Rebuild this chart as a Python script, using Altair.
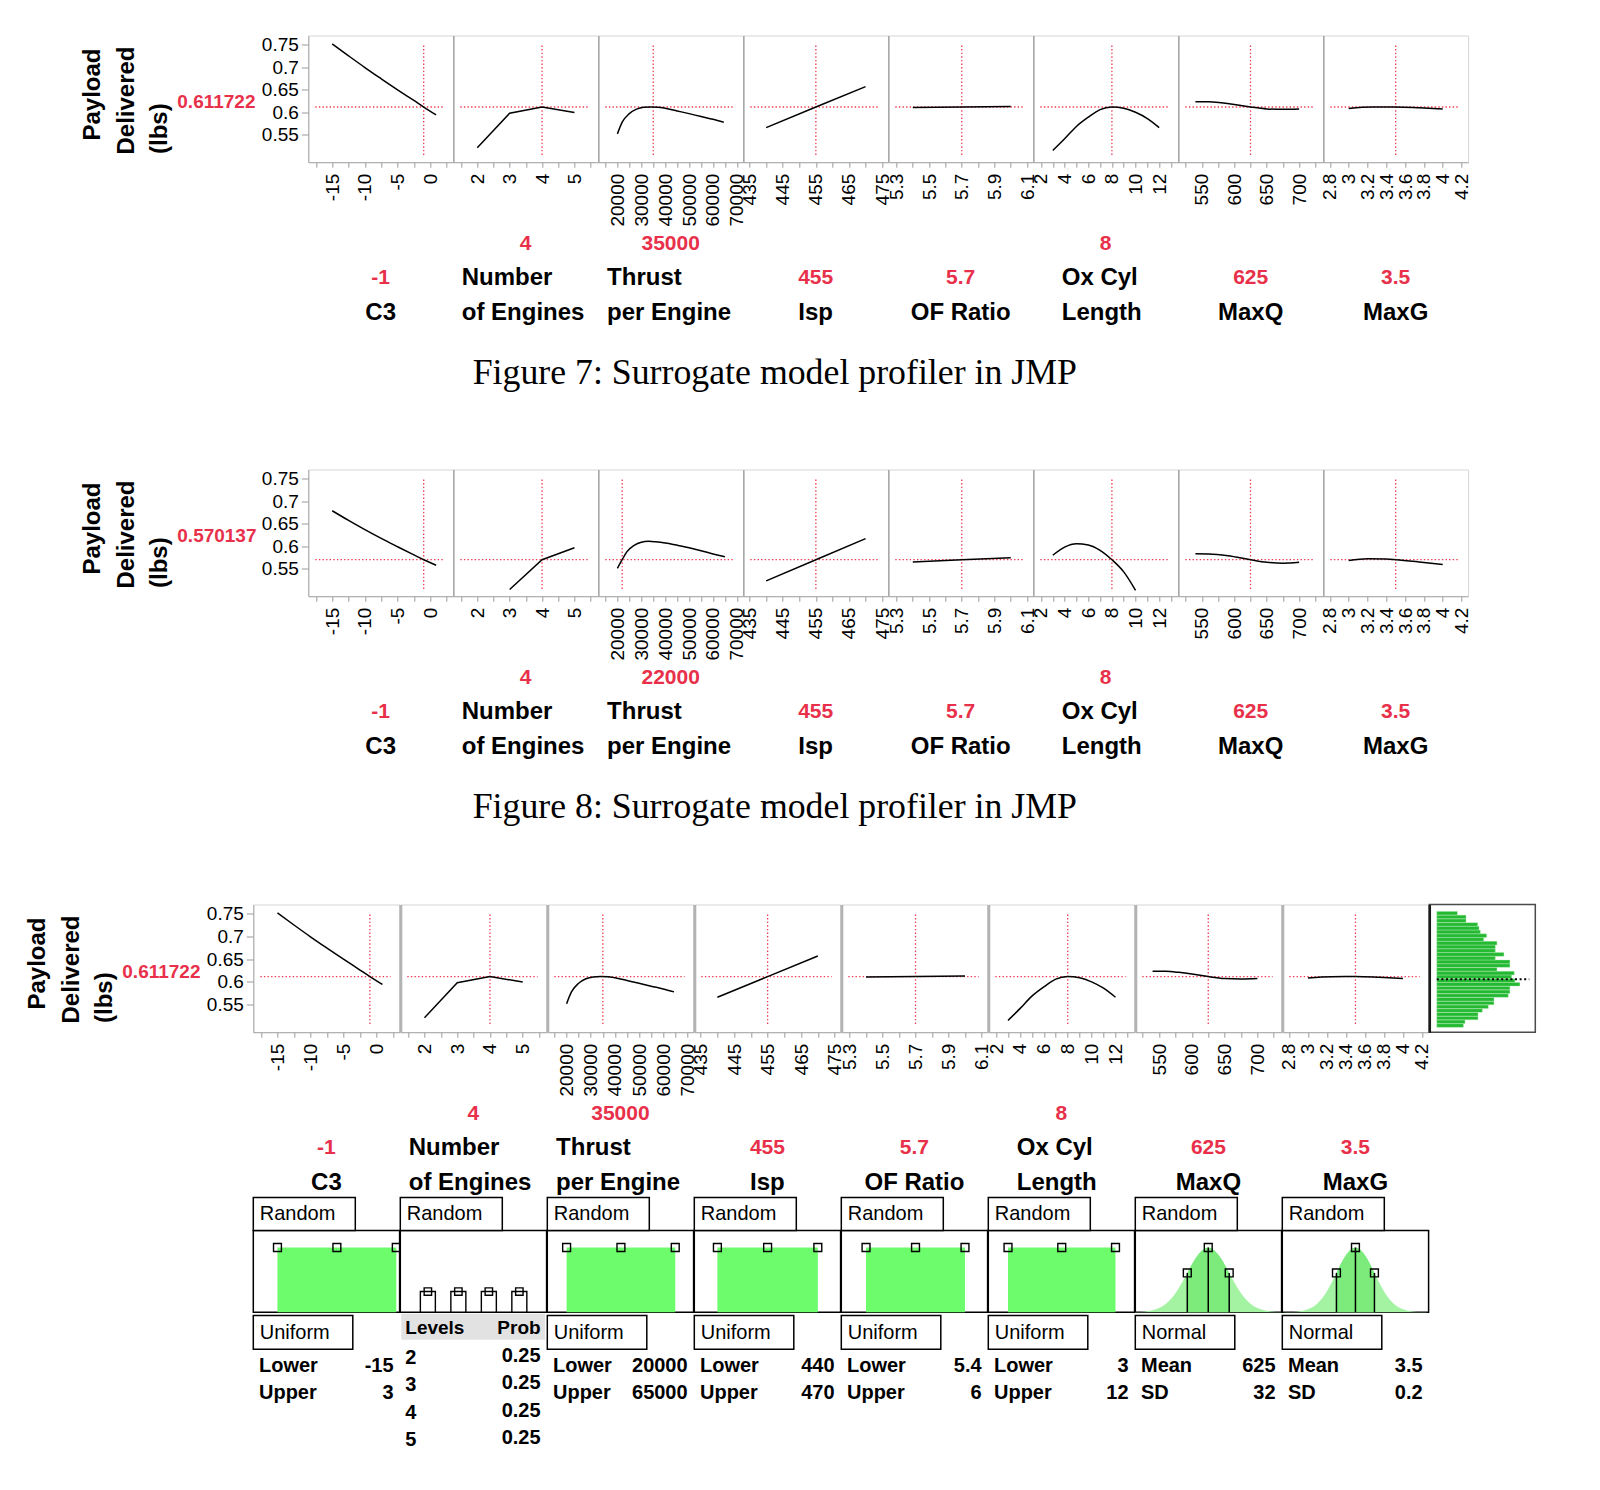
import json
import altair as alt
import pandas as pd

FONT = "Liberation Sans"
SERIF = "Liberation Serif"
RED = "#f03a50"
RED_TEXT = "#e8304a"
GREEN_U = "#6cfc6c"
BELL = "#a3f3a3"
BELL_IN = "#7ceb7c"
HIST_GREEN = "#23b932"

# ---------------- profiler data ----------------
factor_name_lines = [["C3"], ["Number", "of Engines"], ["Thrust", "per Engine"], ["Isp"],
                     ["OF Ratio"], ["Ox Cyl", "Length"], ["MaxQ"], ["MaxG"]]
x_domains = [[-18.66, 3.5], [1.26, 5.73], [12000, 72600], [433.1, 476.8],
             [5.25, 6.137], [1.35, 13.6], [513.6, 737], [2.73, 4.27]]
major_ticks = [[-15, -10, -5, 0], [2, 3, 4, 5], [20000, 30000, 40000, 50000, 60000, 70000],
               [435, 445, 455, 465, 475], [5.3, 5.5, 5.7, 5.9, 6.1], [2, 4, 6, 8, 10, 12],
               [550, 600, 650, 700], [2.8, 3, 3.2, 3.4, 3.6, 3.8, 4, 4.2]]
minor_ticks = [[-17.5, -12.5, -7.5, -2.5, 2.5], [1.5, 2.5, 3.5, 4.5, 5.5],
               [15000, 25000, 35000, 45000, 55000, 65000], [440, 450, 460, 470],
               [5.4, 5.6, 5.8, 6.0], [3, 5, 7, 9, 11, 13], [525, 575, 625, 675, 725], []]
y_ticks = [0.55, 0.6, 0.65, 0.7, 0.75]
y_domain = [0.489, 0.7707]
y_title_lines = ["Payload", "Delivered", "(lbs)"]

settings_fig7 = [-1, 4, 35000, 455, 5.7, 8, 625, 3.5]
settings_fig8 = [-1, 4, 22000, 455, 5.7, 8, 625, 3.5]
setting_labels_fig7 = ["-1", "4", "35000", "455", "5.7", "8", "625", "3.5"]
setting_labels_fig8 = ["-1", "4", "22000", "455", "5.7", "8", "625", "3.5"]
response_fig7 = 0.611722
response_fig8 = 0.570137
response_label_fig7 = "0.611722"
response_label_fig8 = "0.570137"
caption_fig7 = "Figure 7: Surrogate model profiler in JMP"
caption_fig8 = "Figure 8: Surrogate model profiler in JMP"

c3_x = [-15, -12.5, -10, -7.5, -5, -2.5, -1, 0.9]
c3_fig7 = [0.752, 0.7255, 0.6995, 0.6745, 0.650, 0.6262, 0.6117, 0.5942]
c3_fig8 = [0.679, 0.6575, 0.637, 0.6175, 0.599, 0.5808, 0.5701, 0.5578]
eng_x_fig7 = [2, 3, 4, 5]
eng_fig7 = [0.521, 0.598, 0.6117, 0.5996]
eng_x_fig8 = [3, 4, 5]
eng_fig8 = [0.504, 0.5701, 0.5966]
thr_x_fig7 = [20000, 22000, 25000, 28000, 31000, 34000, 37000, 40000, 45000, 50000, 55000, 60000, 64500]
thr_fig7 = [0.552, 0.578, 0.597, 0.607, 0.611, 0.6118, 0.6113, 0.609, 0.603, 0.597, 0.5905, 0.5845, 0.578]
thr_x_fig8 = [20000, 22000, 24000, 27000, 30000, 33000, 36000, 40000, 45000, 50000, 55000, 60000, 65000]
thr_fig8 = [0.551, 0.5701, 0.588, 0.602, 0.609, 0.611, 0.610, 0.6075, 0.6025, 0.5965, 0.590, 0.583, 0.5765]
isp_x = [440, 455, 470]
isp_fig7 = [0.566, 0.6117, 0.657]
isp_fig8 = [0.523, 0.5701, 0.617]
of_x = [5.4, 5.7, 6.0]
of_fig7 = [0.6105, 0.6117, 0.6128]
of_fig8 = [0.5648, 0.5701, 0.5745]
ox_x_fig7 = [3, 4, 5, 6, 7, 8, 9, 10, 11, 12]
ox_fig7 = [0.515, 0.541, 0.5685, 0.589, 0.606, 0.6117, 0.609, 0.600, 0.586, 0.566]
ox_x_fig8 = [3, 4, 5, 6, 7, 8, 9, 10]
ox_fig8 = [0.580, 0.598, 0.6055, 0.603, 0.591, 0.5701, 0.543, 0.502]
mq_x_fig7 = [540, 560, 580, 600, 625, 650, 675, 700]
mq_fig7 = [0.6233, 0.6232, 0.621, 0.6175, 0.6117, 0.6075, 0.6065, 0.6075]
mq_x_fig8 = [540, 560, 590, 625, 650, 675, 700]
mq_fig8 = [0.5832, 0.5828, 0.579, 0.5701, 0.5645, 0.5625, 0.5645]
mg_x_fig7 = [3.0, 3.25, 3.5, 3.75, 4.0]
mg_fig7 = [0.6085, 0.6115, 0.6117, 0.610, 0.6075]
mg_x_fig8 = [3.0, 3.2, 3.4, 3.5, 3.75, 4.0]
mg_fig8 = [0.5686, 0.5722, 0.5715, 0.5701, 0.5652, 0.5596]

curves_x_fig7 = [c3_x, eng_x_fig7, thr_x_fig7, isp_x, of_x, ox_x_fig7, mq_x_fig7, mg_x_fig7]
curves_y_fig7 = [c3_fig7, eng_fig7, thr_fig7, isp_fig7, of_fig7, ox_fig7, mq_fig7, mg_fig7]
curves_x_fig8 = [c3_x, eng_x_fig8, thr_x_fig8, isp_x, of_x, ox_x_fig8, mq_x_fig8, mg_x_fig8]
curves_y_fig8 = [c3_fig8, eng_fig8, thr_fig8, isp_fig8, of_fig8, ox_fig8, mq_fig8, mg_fig8]

# ---------------- simulated distribution histogram ----------------
hist_bin_start = [0.4998, 0.5081, 0.5163, 0.5246, 0.5328, 0.5411, 0.5494, 0.5576, 0.5659, 0.5741,
                  0.5824, 0.5907, 0.5989, 0.6072, 0.6154, 0.6237, 0.6320, 0.6402, 0.6485, 0.6567,
                  0.6650, 0.6733, 0.6815, 0.6898, 0.6980, 0.7063, 0.7146, 0.7228, 0.7311, 0.7393, 0.7476]
hist_count = [80, 85, 124, 124, 137, 155, 172, 172, 215, 220, 220, 250, 235, 225, 233, 181,
              220, 220, 176, 202, 176, 176, 181, 141, 150, 131, 127, 123, 88, 88, 62]
hist_mean = 0.6058

# ---------------- simulator inputs ----------------
sim_kinds = ["uniform", "discrete", "uniform", "uniform", "uniform", "uniform", "normal", "normal"]
sim_random_label = "Random"
sim_dist_labels = ["Uniform", "", "Uniform", "Uniform", "Uniform", "Uniform", "Normal", "Normal"]
sim_param_names = [["Lower", "Upper"], [], ["Lower", "Upper"], ["Lower", "Upper"], ["Lower", "Upper"],
                   ["Lower", "Upper"], ["Mean", "SD"], ["Mean", "SD"]]
sim_param_values = [["-15", "3"], [], ["20000", "65000"], ["440", "470"], ["5.4", "6"],
                    ["3", "12"], ["625", "32"], ["3.5", "0.2"]]
uniform_ranges = {0: [-15, 3], 2: [20000, 65000], 3: [440, 470], 4: [5.4, 6], 5: [3, 12]}
engine_table_header = ["Levels", "Prob"]
engine_levels = [2, 3, 4, 5]
engine_level_labels = ["2", "3", "4", "5"]
engine_probs = [0.25, 0.25, 0.25, 0.25]
engine_prob_labels = ["0.25", "0.25", "0.25", "0.25"]
normal_params = {6: [625, 32], 7: [3.5, 0.2]}
normal_x = {6: [513, 529, 545, 561, 577, 593, 609, 625, 641, 657, 673, 689, 705, 721, 737],
            7: [2.73, 2.8, 2.9, 3.0, 3.1, 3.2, 3.3, 3.4, 3.5, 3.6, 3.7, 3.8, 3.9, 4.0, 4.1, 4.2, 4.27]}
normal_h = {6: [0.002, 0.011, 0.044, 0.135, 0.325, 0.607, 0.882, 1.0, 0.882, 0.607, 0.325, 0.135, 0.044, 0.011, 0.002],
            7: [0.0006, 0.002, 0.011, 0.044, 0.135, 0.325, 0.607, 0.882, 1.0, 0.882, 0.607, 0.325, 0.135, 0.044, 0.011, 0.002, 0.0006]}
normal_handle_h = [0.607, 1.0, 0.607]

# ---------------- layout constants (styles) ----------------
W1, H1 = 144.8, 126.7
W3, H3, HW, SH = 146.3, 127.7, 106.0, 81.7
LEFT_SHIFT = 54.9
GAP12, GAP23, GAP3S = 306.6, 308.3, 198.0
name_offsets = [0, 8.5, 8.8, 0, 0, 28.5, 0, 0]
interps = ["monotone", "linear", "monotone", "linear", "linear", "monotone", "monotone", "monotone"]


def text_layer(s, x, y, size, color="black", weight="bold", align="center",
               baseline="middle", font=FONT, angle=0):
    return alt.Chart(pd.DataFrame({"t": [s]})).mark_text(
        align=align, baseline=baseline, fontSize=size, fontWeight=weight,
        color=color, font=font, angle=angle
    ).encode(x=alt.value(x), y=alt.value(y), text="t:N")


def box_layer(x0, x1, y0, y1, fill="white", stroke_w=1.5):
    if stroke_w > 0:
        m = alt.Chart(pd.DataFrame({"b": [0]})).mark_rect(fill=fill, stroke="black", strokeWidth=stroke_w)
    else:
        m = alt.Chart(pd.DataFrame({"b": [0]})).mark_rect(fill=fill, strokeWidth=0)
    return m.encode(x=alt.value(x0), x2=alt.value(x1), y=alt.value(y0), y2=alt.value(y1))


def spacer(w, h):
    return alt.Chart(pd.DataFrame({"s": [0]})).mark_point(opacity=0).encode(
        x=alt.value(0), y=alt.value(0)).properties(width=w, height=h)


def axis_x(i):
    ticks = sorted(major_ticks[i] + minor_ticks[i])
    expr = "indexof(%s, datum.value) >= 0 ? '' + datum.value : ''" % json.dumps(major_ticks[i])
    return alt.Axis(values=ticks, labelExpr=expr, labelAngle=270, labelFont=FONT, labelFontSize=19,
                    labelColor="black", labelPadding=6, labelOverlap=False, labelBound=False,
                    labelFlush=False, tickSize=5, tickColor="#9a9a9a", tickWidth=1,
                    domainColor="#a8a8a8", domainWidth=1, grid=False, title=None)


def axis_y_first():
    return alt.Axis(values=y_ticks, labelExpr="'' + datum.value", labelFont=FONT, labelFontSize=19,
                    labelColor="black", labelPadding=3, tickSize=7, tickColor="#9a9a9a",
                    domainColor="#a8a8a8", domainWidth=1, grid=False, title=None,
                    labelOverlap=False, labelFlush=False)


def axis_y_sep(width, color):
    return alt.Axis(labels=False, ticks=False, domainColor=color, domainWidth=width,
                    grid=False, title=None)


def first_extras(resp_label, H, caption, cap_y):
    ex = [
        text_layer(y_title_lines[0], -227.5, 105, 24, align="left", baseline="top", angle=270),
        text_layer(y_title_lines[1], -193.5, 119, 24, align="left", baseline="top", angle=270),
        text_layer(y_title_lines[2], -160.3, 118.5, 24, align="left", baseline="top", angle=270),
        text_layer(resp_label, -131, H / 2 + 3.5, 19, color=RED_TEXT, align="left"),
    ]
    if caption:
        ex.append(text_layer(caption, 466.5, cap_y, 35.8, weight="normal", font=SERIF))
    return ex


def profile_panel(i, cx, cy, setting, setting_label, resp, W, H, first, sep_w, sep_c, extra):
    xs = alt.Scale(domain=x_domains[i], nice=False, zero=False)
    ys = alt.Scale(domain=y_domain, nice=False, zero=False)
    ax = axis_x(i)
    ay = axis_y_first() if first else axis_y_sep(sep_w, sep_c)
    cross = pd.DataFrame({"s": [setting], "r": [resp]})
    hrule = alt.Chart(cross).mark_rule(color=RED, strokeDash=[1.4, 2.2], strokeWidth=1.3).encode(
        y=alt.Y("r:Q", scale=ys, axis=ay), x=alt.value(7), x2=alt.value(W - 9))
    vrule = alt.Chart(cross).mark_rule(color=RED, strokeDash=[1.4, 2.2], strokeWidth=1.3).encode(
        x=alt.X("s:Q", scale=xs, axis=ax), y=alt.value(10), y2=alt.value(H - 7))
    curve = alt.Chart(pd.DataFrame({"x": cx, "y": cy})).mark_line(
        color="black", strokeWidth=1.5, interpolate=interps[i]).encode(
        x=alt.X("x:Q", scale=xs, axis=ax), y=alt.Y("y:Q", scale=ys, axis=ay))
    layers = [hrule, vrule, curve]
    names = factor_name_lines[i]
    L0, L1, L2 = H + 81.5, H + 116, H + 150.5
    if len(names) == 1:
        layers.append(text_layer(setting_label, W / 2, L1, 21, color=RED_TEXT))
        layers.append(text_layer(names[0], W / 2, L2, 24))
    else:
        layers.append(text_layer(setting_label, W / 2, L0, 21, color=RED_TEXT))
        layers.append(text_layer(names[0], name_offsets[i], L1, 24, align="left"))
        layers.append(text_layer(names[1], name_offsets[i], L2, 24, align="left"))
    layers.extend(extra)
    return alt.layer(*layers).properties(
        width=W, height=H, view=alt.ViewBackground(stroke="#d6d6d6", strokeWidth=1))


def handles(df, xf, yf, xs, ys, size):
    return alt.Chart(df).mark_point(shape="square", size=size, filled=False, color="black",
                                    strokeWidth=1.4, opacity=1).encode(
        x=alt.X(xf, scale=xs, axis=None), y=alt.Y(yf, scale=ys, axis=None))


def sim_panel(i, W):
    xs = alt.Scale(domain=x_domains[i], nice=False, zero=False)
    sim_y = alt.Scale(domain=[0, 1.263], nice=False, zero=False)
    kind = sim_kinds[i]
    layers = []
    if kind == "uniform":
        lo, hi = uniform_ranges[i]
        r = pd.DataFrame({"lo": [lo], "hi": [hi], "top": [1.0], "base": [0.0]})
        layers.append(alt.Chart(r).mark_rect(color=GREEN_U).encode(
            x=alt.X("lo:Q", scale=xs, axis=None), x2="hi:Q",
            y=alt.Y("top:Q", scale=sim_y, axis=None), y2="base:Q"))
        h = pd.DataFrame({"hx": [lo, (lo + hi) / 2, hi], "hy": [1.0, 1.0, 1.0]})
        layers.append(handles(h, "hx:Q", "hy:Q", xs, sim_y, 62))
    elif kind == "discrete":
        ye = alt.Scale(domain=[0, 0.99], nice=False, zero=False)
        d = pd.DataFrame({"lv": engine_levels, "p": engine_probs, "base": [0, 0, 0, 0]})
        layers.append(alt.Chart(d).mark_bar(orient="vertical", size=15, fill="white",
                                            stroke="black", strokeWidth=1.4).encode(
            x=alt.X("lv:Q", scale=xs, axis=None), y=alt.Y("p:Q", scale=ye, axis=None), y2="base:Q"))
        layers.append(handles(d, "lv:Q", "p:Q", xs, ye, 55))
    else:
        m, sd = normal_params[i]
        b = pd.DataFrame({"x": normal_x[i], "h": normal_h[i], "base": [0.0] * len(normal_x[i])})
        layers.append(alt.Chart(b).mark_area(color=BELL, interpolate="monotone").encode(
            x=alt.X("x:Q", scale=xs, axis=None), y=alt.Y("h:Q", scale=sim_y, axis=None), y2="base:Q"))
        layers.append(alt.Chart(b).transform_filter(
            "datum.x >= %r - 1e-9 && datum.x <= %r + 1e-9" % (m - sd, m + sd)).mark_area(
            color=BELL_IN, interpolate="monotone").encode(
            x=alt.X("x:Q", scale=xs, axis=None), y=alt.Y("h:Q", scale=sim_y, axis=None), y2="base:Q"))
        rl = pd.DataFrame({"rx": [m - sd, m, m + sd], "rh": normal_handle_h, "base": [0.0, 0.0, 0.0]})
        layers.append(alt.Chart(rl).mark_rule(color="black", strokeWidth=1.5).encode(
            x=alt.X("rx:Q", scale=xs, axis=None), y=alt.Y("rh:Q", scale=sim_y, axis=None), y2="base:Q"))
        layers.append(handles(rl, "rx:Q", "rh:Q", xs, sim_y, 62))

    layers.append(box_layer(0, 102, -33, 0))
    layers.append(text_layer(sim_random_label, 6.5, -16, 20, weight="normal", align="left"))
    if kind == "discrete":
        layers.append(box_layer(1, W - 1.5, SH + 1.5, SH + 27.6, fill="#e2e2e2", stroke_w=0))
        layers.append(text_layer(engine_table_header[0], 5, SH + 15.5, 19, align="left"))
        layers.append(text_layer(engine_table_header[1], W - 6, SH + 15.5, 19, align="right"))
        for k in range(len(engine_levels)):
            layers.append(text_layer(engine_level_labels[k], 5, SH + 46 + 27.3 * k, 20, align="left"))
            layers.append(text_layer(engine_prob_labels[k], W - 6, SH + 44 + 27.3 * k, 20, align="right"))
    else:
        layers.append(box_layer(0, 99.5, SH + 3.3, SH + 37))
        layers.append(text_layer(sim_dist_labels[i], 6.5, SH + 20.5, 20, weight="normal", align="left"))
        for k in range(2):
            layers.append(text_layer(sim_param_names[i][k], 5.7, SH + 54.3 + 26.7 * k, 20, align="left"))
            layers.append(text_layer(sim_param_values[i][k], W - 6, SH + 54.3 + 26.7 * k, 20, align="right"))
    return alt.layer(*layers).properties(
        width=W, height=SH, view=alt.ViewBackground(stroke="black", strokeWidth=1.5))


def hist_panel(W, H):
    ys = alt.Scale(domain=y_domain, nice=False, zero=False)
    hx = alt.Scale(domain=[-22.5, 296.4], nice=False, zero=False)
    ay = alt.Axis(labels=False, ticks=False, domainColor="#1a1a1a", domainWidth=2.5, grid=False, title=None)
    d = pd.DataFrame({"b0": hist_bin_start, "n": hist_count})
    bars = alt.Chart(d).transform_calculate(b1="datum.b0 + 0.0079", z="0").mark_rect(
        color=HIST_GREEN, stroke="#b4ecb4", strokeWidth=0.4).encode(
        x=alt.X("n:Q", scale=hx, axis=None), x2="z:Q",
        y=alt.Y("b0:Q", scale=ys, axis=ay), y2="b1:Q")
    mean = alt.Chart(pd.DataFrame({"m": [hist_mean]})).mark_rule(
        color="black", strokeDash=[2, 2.6], strokeWidth=2).encode(
        y=alt.Y("m:Q", scale=ys, axis=ay), x=alt.value(7.5), x2=alt.value(W - 6))
    return alt.layer(bars, mean).properties(
        width=W, height=H, view=alt.ViewBackground(stroke="#4a4a4a", strokeWidth=1.5))


def profile_row(cxs, cys, settings, labels, resp, resp_label, caption, W, H, sep_w, sep_c, cap_y):
    panels = []
    for i in range(8):
        extra = first_extras(resp_label, H, caption, cap_y) if i == 0 else []
        panels.append(profile_panel(i, cxs[i], cys[i], settings[i], labels[i], resp, W, H,
                                    i == 0, sep_w, sep_c, extra))
    return panels


row1_panels = profile_row(curves_x_fig7, curves_y_fig7, settings_fig7, setting_labels_fig7,
                          response_fig7, response_label_fig7, caption_fig7, W1, H1, 1.5, "#a6a6a6", 337)
row2_panels = profile_row(curves_x_fig8, curves_y_fig8, settings_fig8, setting_labels_fig8,
                          response_fig8, response_label_fig8, caption_fig8, W1, H1, 1.5, "#a6a6a6", 338)
row3_panels = profile_row(curves_x_fig7, curves_y_fig7, settings_fig7, setting_labels_fig7,
                          response_fig7, response_label_fig7, None, W3, H3, 3, "#b3b3b3", 0)

row1 = alt.hconcat(spacer(LEFT_SHIFT, H1), *row1_panels, spacing=0, bounds="flush").resolve_scale(
    x="independent", y="independent")
row2 = alt.hconcat(spacer(LEFT_SHIFT, H1), *row2_panels, spacing=0, bounds="flush").resolve_scale(
    x="independent", y="independent")
row3 = alt.hconcat(*row3_panels, hist_panel(HW, H3), spacing=0, bounds="flush").resolve_scale(
    x="independent", y="independent")
simrow = alt.hconcat(*[sim_panel(i, W3) for i in range(8)], spacing=0, bounds="flush").resolve_scale(
    x="independent", y="independent")

# nested rows count as zero height in a flush stack, so the spacers carry row height + gap
chart = alt.vconcat(row1, spacer(1, H1 + GAP12), row2, spacer(1, H1 + GAP23), row3,
                    spacer(1, H3 + GAP3S), simrow,
                    spacing=0, bounds="flush").resolve_scale(
    x="independent", y="independent").properties(
    padding={"left": 17.3, "top": 23.5, "right": 6, "bottom": 6}
).configure_view(stroke="transparent")

chart.save("out.html", embed_options={"renderer": "svg", "actions": False})
